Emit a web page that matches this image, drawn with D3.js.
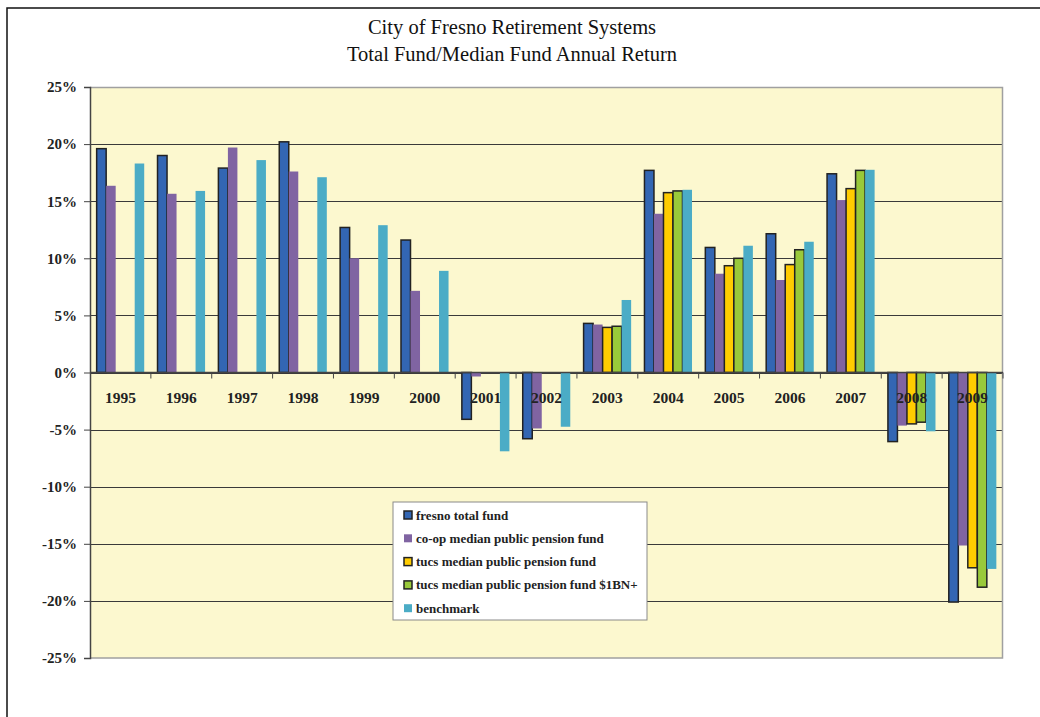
<!DOCTYPE html>
<html>
<head>
<meta charset="utf-8">
<script src="https://cdn.jsdelivr.net/npm/d3@7"></script>
<style>
  body { margin: 0; background: #fff; }
  svg text { font-family: "Liberation Serif", "Times New Roman", serif; }
</style>
</head>
<body>
<div id="chart"></div>
<script>
// Annual returns (%)
const years = ["1995", "1996", "1997", "1998", "1999", "2000", "2001", "2002",
               "2003", "2004", "2005", "2006", "2007", "2008", "2009"];
const fresno    = [19.6, 19.0, 17.9, 20.2, 12.7, 11.6, -4.1, -5.8, 4.3, 17.7, 10.95, 12.15, 17.4, -6.05, -20.1];
const coop      = [16.35, 15.65, 19.7, 17.6, 10.0, 7.15, -0.35, -4.9, 4.2, 13.9, 8.65, 8.1, 15.1, -4.65, -15.15];
const tucs      = [null, null, null, null, null, null, null, null, 3.95, 15.75, 9.35, 9.45, 16.1, -4.5, -17.1];
const tucs1bn   = [null, null, null, null, null, null, null, null, 4.05, 15.9, 10.0, 10.75, 17.7, -4.35, -18.8];
const benchmark = [18.3, 15.9, 18.6, 17.1, 12.9, 8.9, -6.9, -4.75, 6.35, 16.0, 11.1, 11.45, 17.75, -5.15, -17.2];
const yTicks = [-25, -20, -15, -10, -5, 0, 5, 10, 15, 20, 25];

const series = [
  { name: "fresno total fund", values: fresno, color: "#3366b3", outline: true },
  { name: "co-op median public pension fund", values: coop, color: "#8064a2", outline: false },
  { name: "tucs median public pension fund", values: tucs, color: "#ffcc00", outline: true },
  { name: "tucs median public pension fund $1BN+", values: tucs1bn, color: "#99c93a", outline: true },
  { name: "benchmark", values: benchmark, color: "#4bacc6", outline: false }
];

const width = 1040, height = 717;
const margin = { top: 87, right: 37, bottom: 59, left: 90 };
const plotW = width - margin.left - margin.right,
      plotH = height - margin.top - margin.bottom;

const svg = d3.select("#chart").append("svg")
    .attr("width", width)
    .attr("height", height);

// outer frame (runs off the right and bottom of the picture)
svg.append("rect")
    .attr("x", 7).attr("y", 8)
    .attr("width", 1100).attr("height", 800)
    .attr("fill", "none")
    .attr("stroke", "#111")
    .attr("stroke-width", 1.5);

// title
const title = svg.append("text")
    .attr("text-anchor", "middle")
    .attr("font-size", 20.5)
    .attr("fill", "#111");
title.append("tspan").attr("x", 512).attr("y", 34).text("City of Fresno Retirement Systems");
title.append("tspan").attr("x", 512).attr("y", 61).text("Total Fund/Median Fund Annual Return");

const g = svg.append("g")
    .attr("transform", "translate(" + margin.left + "," + margin.top + ")");

const x = d3.scaleBand().domain(years).range([0, plotW]).paddingInner(0).paddingOuter(0);
const xs = d3.scaleBand().domain(series.map(d => d.name)).range([0, x.bandwidth()])
    .paddingInner(0).paddingOuter(0.7);
const y = d3.scaleLinear().domain([-25, 25]).range([plotH, 0]);

// plot background
g.append("rect")
    .attr("width", plotW).attr("height", plotH)
    .attr("fill", "#fcf8cf");

// gridlines
g.selectAll(".grid")
    .data(yTicks.filter(t => t !== 25 && t !== -25))
    .enter().append("line")
    .attr("class", "grid")
    .attr("x1", 0).attr("x2", plotW)
    .attr("y1", d => Math.round(y(d)) + 0.5)
    .attr("y2", d => Math.round(y(d)) + 0.5)
    .attr("stroke", "#3a3a3a")
    .attr("stroke-width", 1);

// plot border
g.append("path")
    .attr("d", `M0,0.5H${plotW - 0.5}V${plotH}H0`)
    .attr("fill", "none")
    .attr("stroke", "#a0a0a0")
    .attr("stroke-width", 1.5);

// bars
const groups = g.selectAll(".series")
    .data(series)
    .enter().append("g")
    .attr("class", "series");

groups.selectAll("rect")
    .data(s => s.values.map((v, i) => ({ s, v, year: years[i] })).filter(d => d.v !== null))
    .enter().append("rect")
    .attr("x", d => x(d.year) + xs(d.s.name))
    .attr("y", d => y(Math.max(0, d.v)))
    .attr("width", xs.bandwidth())
    .attr("height", d => Math.abs(y(d.v) - y(0)))
    .attr("fill", d => d.s.color)
    .attr("stroke", d => d.s.outline ? "#222" : "none")
    .attr("stroke-width", 1.5);

// y axis
const yAxis = g.append("g")
    .call(d3.axisLeft(y).tickValues(yTicks).tickSize(6).tickFormat(d => d + "%"));
yAxis.select(".domain").attr("stroke", "#444").attr("stroke-width", 1.5);
yAxis.selectAll(".tick line").attr("stroke", "#444");
yAxis.selectAll(".tick text")
    .attr("x", -13)
    .attr("font-family", "Liberation Serif, Times New Roman, serif")
    .attr("font-size", 15)
    .attr("font-weight", "bold")
    .attr("fill", "#222");

// x axis at zero, ticks between categories
const xAxis = g.append("g")
    .attr("transform", "translate(0," + y(0) + ")");
xAxis.append("line")
    .attr("x1", 0).attr("x2", plotW)
    .attr("stroke", "#444").attr("stroke-width", 1.5);
xAxis.selectAll(".xtick")
    .data(years.slice(1).concat(["end"]))
    .enter().append("line")
    .attr("class", "xtick")
    .attr("x1", d => d === "end" ? plotW : x(d))
    .attr("x2", d => d === "end" ? plotW : x(d))
    .attr("y1", 0).attr("y2", 6)
    .attr("stroke", "#444");

// category labels sit on top of the bars
g.selectAll(".xlabel")
    .data(years)
    .enter().append("text")
    .attr("class", "xlabel")
    .attr("x", d => x(d) + x.bandwidth() / 2)
    .attr("y", y(0) + 30)
    .attr("text-anchor", "middle")
    .attr("font-size", 15.5)
    .attr("font-weight", "bold")
    .attr("fill", "#222")
    .text(d => d);

// legend
const legend = svg.append("g").attr("transform", "translate(393,502)");
legend.append("rect")
    .attr("width", 254).attr("height", 118)
    .attr("fill", "#fff")
    .attr("stroke", "#8a8a8a");
const item = legend.selectAll(".item")
    .data(series)
    .enter().append("g")
    .attr("class", "item")
    .attr("transform", (d, i) => "translate(11," + (13 + i * 23.3) + ")");
item.append("rect")
    .attr("x", 0).attr("y", -4)
    .attr("width", 8).attr("height", 8)
    .attr("fill", d => d.color)
    .attr("stroke", d => d.outline ? "#222" : "none")
    .attr("stroke-width", 1.5);
item.append("text")
    .attr("x", 12).attr("y", 4.5)
    .attr("font-size", 13)
    .attr("font-weight", "bold")
    .attr("fill", "#222")
    .text(d => d.name);
</script>
</body>
</html>
